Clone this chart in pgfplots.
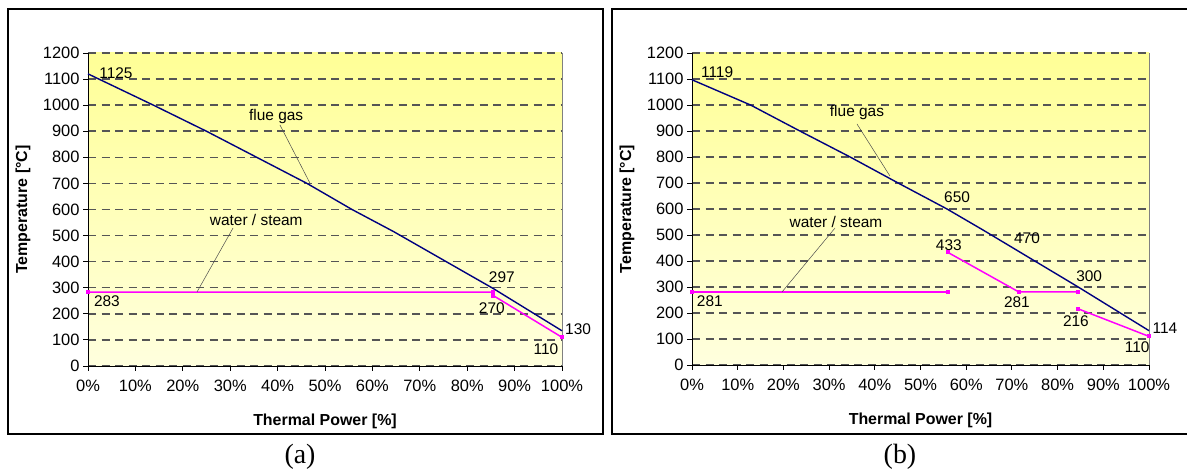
\documentclass[border=0pt]{standalone}
\usepackage{pgfplots}
\pgfplotsset{compat=1.18}
\usepackage{fontspec}
\setmainfont{Liberation Sans}
\newfontfamily\seriffont{Liberation Serif}
\definecolor{flue}{RGB}{0,0,128}
\definecolor{steam}{RGB}{255,0,255}
\definecolor{bgtop}{RGB}{255,255,150}
\definecolor{bgbot}{RGB}{255,255,222}
\definecolor{gridc}{RGB}{85,85,85}
\tikzset{
  dl/.style={font=\fontsize{15.5}{18}\selectfont, inner sep=0pt},
  leader/.style={black!70, line width=0.5bp},
  flueline/.style={flue, line width=1.4bp},
  steamline/.style={steam, line width=1.5bp, mark=square*, mark size=1.3bp, mark options={solid}},
}
\pgfplotsset{
  myaxis/.style={
    scale only axis, anchor=south west, clip=false,
    xmin=0, xmax=100, ymin=0, ymax=1200,
    xtick={0,10,...,100},
    xticklabels={0\%,10\%,20\%,30\%,40\%,50\%,60\%,70\%,80\%,90\%,100\%},
    ytick={0,100,...,1200},
    axis x line*=bottom, axis y line*=left,
    axis line style={black, line width=0.9bp, -},
    tick align=outside, major tick length=5bp,
    tick style={black, line width=0.9bp},
    ymajorgrids,
    major grid style={gridc, line width=1.5bp, dash pattern=on 8bp off 5.5bp},
    axis background/.style={shade, top color=bgtop, bottom color=bgbot},
    /pgf/number format/assume math mode=true,
    /pgf/number format/1000 sep={},
    ticklabel style={font=\fontsize{16.5}{19}\selectfont},
    xticklabel style={yshift=-6bp},
    label style={font=\fontsize{16}{19}\selectfont\bfseries},
    xlabel={Thermal Power [\%]}, ylabel={Temperature [°C]},
    xlabel style={at={(axis description cs:0.5,0)}, anchor=center, yshift=-55bp},
  }
}
\begin{document}
\begin{tikzpicture}
\useasboundingbox (0bp,0bp) rectangle (1187bp,472bp);
\draw[line width=1.5bp] (8bp,38bp) rectangle (603bp,463bp);
\draw[line width=1.5bp] (612bp,38bp) rectangle (1195bp,463bp);
\node[font=\seriffont\fontsize{28}{30}\selectfont] at (300bp,15bp) {(a)};
\node[font=\seriffont\fontsize{28}{30}\selectfont] at (900bp,15bp) {(b)};

% ---------------- (a) ----------------
\begin{axis}[myaxis, at={(88bp,106bp)}, width=474bp, height=313bp,
  ylabel style={at={(axis description cs:-0.137,0.5)}, anchor=center}]
\draw[gray, line width=0.8bp] (rel axis cs:1,0) -- (rel axis cs:1,1);
\addplot[flueline, no marks] coordinates {(0,1120) (13.8,1000) (25,900) (35.6,800) (46.2,700) (55.7,600) (64.5,515) (85.5,297) (100,135)};
\addplot[steamline] coordinates {(0,283) (85.5,283) (85.5,270) (100,110)};
\draw[leader] (axis cs:40.5,924) -- (axis cs:46.8,702);
\draw[leader] (axis cs:30.6,529) -- (axis cs:23,284);
\node[dl] at (axis cs:5.9,1123) {1125};
\node[dl] at (axis cs:4,249) {283};
\node[dl] at (axis cs:87.3,341) {297};
\node[dl] at (axis cs:85.2,222) {270};
\node[dl] at (axis cs:103.4,142) {130};
\node[dl] at (axis cs:96.6,65) {110};
\node[dl] at (axis cs:39.7,958) {flue gas};
\node[dl] at (axis cs:35.5,560) {water / steam};
\end{axis}

% ---------------- (b) ----------------
\begin{axis}[myaxis, at={(692bp,107bp)}, width=457bp, height=312bp,
  ylabel style={at={(axis description cs:-0.142,0.5)}, anchor=center}]
\draw[gray, line width=0.8bp] (rel axis cs:1,0) -- (rel axis cs:1,1);
\addplot[flueline, no marks] coordinates {(0,1097) (12.8,1000) (23.6,900) (34.6,800) (45.1,700) (55.8,600) (63.7,519) (84.5,300) (100,132)};
\addplot[steamline] coordinates {(0,281) (56,281)};
\addplot[steamline] coordinates {(56,433) (71.5,281) (84.5,281)};
\addplot[steamline] coordinates {(84.5,216) (100,110)};
\draw[leader] (axis cs:36.1,927) -- (axis cs:43.3,727);
\draw[leader] (axis cs:31.3,527) -- (axis cs:19.7,281);
\node[dl] at (axis cs:5.5,1127) {1119};
\node[dl] at (axis cs:3.9,246) {281};
\node[dl] at (axis cs:36.1,973) {flue gas};
\node[dl] at (axis cs:31.5,550) {water / steam};
\node[dl] at (axis cs:58,646) {650};
\node[dl] at (axis cs:73.3,488) {470};
\node[dl] at (axis cs:56.2,462) {433};
\node[dl] at (axis cs:71.1,242) {281};
\node[dl] at (axis cs:86.9,342) {300};
\node[dl] at (axis cs:84,169) {216};
\node[dl] at (axis cs:103.5,142) {114};
\node[dl] at (axis cs:97.4,69) {110};
\end{axis}
\end{tikzpicture}
\end{document}
